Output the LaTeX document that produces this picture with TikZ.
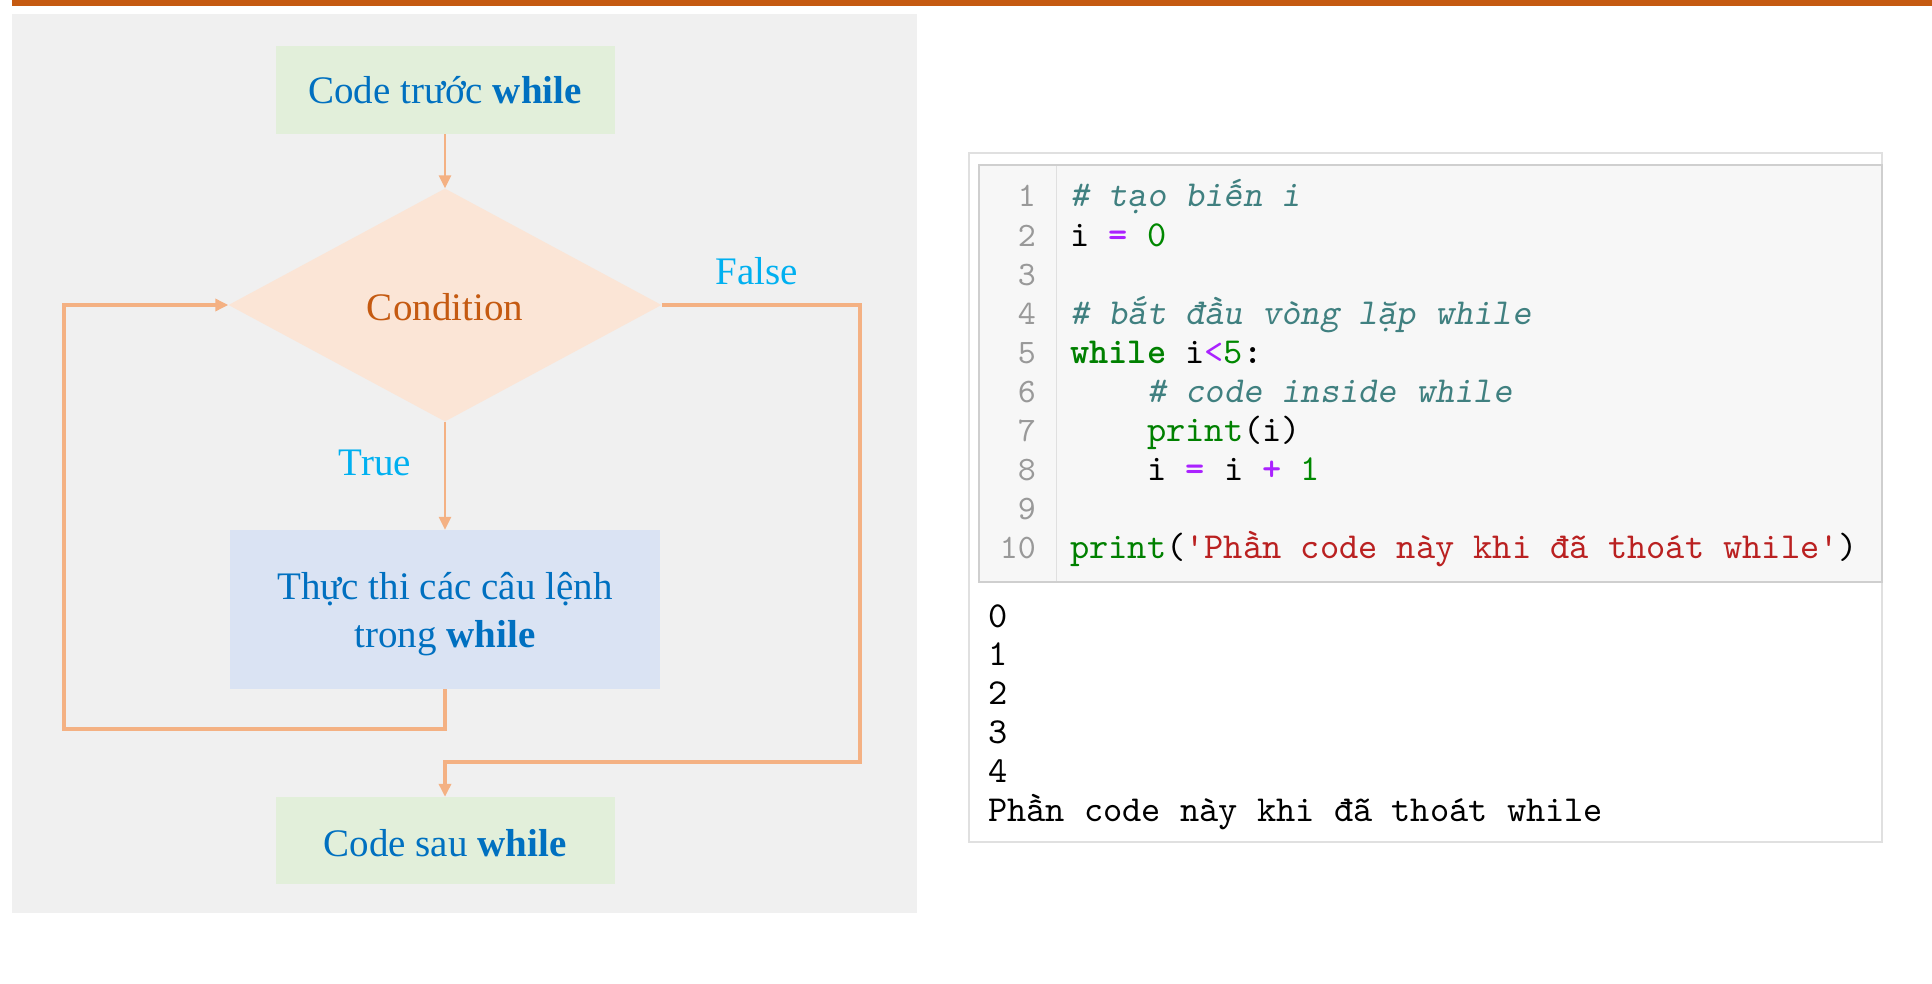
\documentclass[tikz,border=0pt]{standalone}
\usepackage{fontspec}
\setmainfont{Liberation Serif}
\setmonofont{lmmono10-regular.otf}[BoldFont=lmmonolt10-bold.otf, ItalicFont=lmmonoslant10-regular.otf]
\usetikzlibrary{shapes.geometric,arrows.meta}
\definecolor{barc}{HTML}{C55A11}
\definecolor{panel}{HTML}{F0F0F0}
\definecolor{greenbox}{HTML}{E2EFDA}
\definecolor{bluebox}{HTML}{DAE3F3}
\definecolor{peach}{HTML}{FBE5D6}
\definecolor{condtxt}{HTML}{C55A11}
\definecolor{txtblue}{HTML}{0070C0}
\definecolor{lbl}{HTML}{00B0F0}
\definecolor{arrc}{HTML}{F4B183}
\definecolor{cmt}{HTML}{408080}
\definecolor{kw}{HTML}{008000}
\definecolor{op}{HTML}{AA22FF}
\definecolor{num}{HTML}{008800}
\definecolor{strc}{HTML}{BA2121}
\definecolor{lnum}{HTML}{999999}
\definecolor{codebg}{HTML}{F7F7F7}
\definecolor{codeborder}{HTML}{CFCFCF}
\definecolor{outborder}{HTML}{E0E0E0}
\tikzset{
  flowbox/.style={rectangle, inner sep=0pt},
  flowtext/.style={anchor=base, inner sep=0pt, text=txtblue, font=\fontsize{39}{47}\selectfont},
  arr/.style={draw=arrc, line width=2.5pt, -{Triangle[length=13pt,width=12pt]}},
  looparr/.style={draw=arrc, line width=3.5pt, -{Triangle[length=13pt,width=12pt]}},
  lbltext/.style={anchor=base, inner sep=0pt, text=lbl, font=\fontsize{39}{47}\selectfont},
  codeline/.style={anchor=base west, inner sep=0pt, font=\ttfamily\fontsize{36.6}{39}\selectfont},
  lnumstyle/.style={anchor=base east, inner sep=0pt, text=lnum, font=\ttfamily\fontsize{34.3}{39}\selectfont},
}
\begin{document}
\begin{tikzpicture}[x=1pt,y=-1pt]
\fill[white] (0,0) rectangle (1932,984);
\useasboundingbox (0,0) rectangle (1932,984);
% top bar
\fill[barc] (12,0) rectangle (1932,6);
% grey panel
\fill[panel] (12,14) rectangle (917,913);

% flowchart shapes
\node[flowbox, fill=greenbox, minimum width=339pt, minimum height=88pt] (pre) at (445,90) {};
\node[diamond, fill=peach, minimum width=433pt, minimum height=233pt, inner sep=0pt] (cond) at (445,305) {};
\node[flowbox, fill=bluebox, minimum width=430pt, minimum height=159pt] (body) at (445,609.5) {};
\node[flowbox, fill=greenbox, minimum width=339pt, minimum height=87pt] (post) at (445,840.5) {};

% texts
\node[flowtext] (pretxt) at (445,104) {Code trước \textbf{while}};
\node[flowtext, text=condtxt] (condtxt) at (445,320) {Condition};
\node[flowtext] (bodytxt1) at (445,599) {Thực thi các câu lệnh};
\node[flowtext] (bodytxt2) at (445,647) {trong \textbf{while}};
\node[flowtext] (posttxt) at (445,856) {Code sau \textbf{while}};

\node[lbltext] (lfalse) at (757,284) {False};
\node[lbltext] (ltrue) at (375,475) {True};

\coordinate (fb) at (860,762);
\coordinate (lb) at (64,729);

\draw[arr] (pre.south) -- (cond.north);
\draw[arr] (cond.south) -- (body.north);
\draw[looparr] (cond.east) -| (fb) -| (post.north);
\draw[looparr] (body.south) |- (lb) |- (cond.west);

% code panel
\draw[outborder, line width=1.5pt, fill=white] (969,153) rectangle (1882,842);
\draw[codeborder, line width=1.5pt, fill=codebg] (979,165) rectangle (1882,582);
\draw[outborder, line width=1pt] (1056,166) -- (1056,581);

\foreach \i in {1,...,10} {
  \node[lnumstyle] (ln\i) at (1036, {207+39.1*(\i-1)}) {\i};
}

\node[codeline] (c1) at (1070,207) {{\color{cmt}\itshape\# tạo biến i}};
\node[codeline] (c2) at (1070,246.1) {i {\color{op}\bfseries=} {\color{num}0}};
\node[codeline] (c4) at (1070,324.3) {{\color{cmt}\itshape\# bắt đầu vòng lặp while}};
\node[codeline] (c5) at (1070,363.4) {{\color{kw}\bfseries while} i{\color{op}<}{\color{num}5}\textbf{:}};
\node[codeline] (c6) at (1147,402.5) {{\color{cmt}\itshape\# code inside while}};
\node[codeline] (c7) at (1147,441.6) {{\color{kw}print}(i)};
\node[codeline] (c8) at (1147,480.7) {i {\color{op}\bfseries=} i {\color{op}\bfseries+} {\color{num}1}};
\node[codeline] (c10) at (1070,558.9) {{\color{kw}print}({\color{strc}'Phần code này khi đã thoát while'})};

% output
\node[codeline] (o0) at (988,627) {0};
\node[codeline] (o1) at (988,665.8) {1};
\node[codeline] (o2) at (988,704.6) {2};
\node[codeline] (o3) at (988,743.4) {3};
\node[codeline] (o4) at (988,782.2) {4};
\node[codeline] (o5) at (988,821) {Phần code này khi đã thoát while};
\end{tikzpicture}
\end{document}
